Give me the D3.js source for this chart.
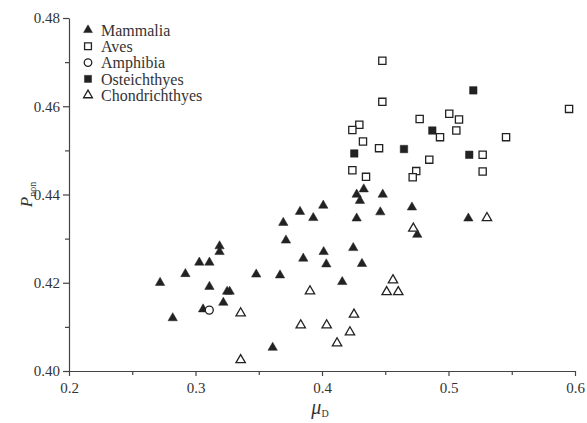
<!DOCTYPE html>
<html lang="en">
  <head>
    <meta charset="UTF-8" />
    <title>P_non vs mu_D</title>
    <script src="https://d3js.org/d3.v7.min.js"></script>
    <style>
      body { margin: 0; background: #fff; }
      text { font-family: "Liberation Serif", "DejaVu Serif", serif; fill: #333; }
    </style>
  </head>
  <body>
    <svg width="587" height="423"></svg>
    <script>
      const margin = { top: 18, right: 12, bottom: 52, left: 69 };
      const svg = d3.select("svg");
      const width = +svg.attr("width");
      const height = +svg.attr("height");
      const innerW = width - margin.left - margin.right;
      const innerH = height - margin.top - margin.bottom;

      // data: [mu_D, P_non]
      const mammalia = [
        [0.272, 0.420], [0.282, 0.412], [0.292, 0.422], [0.303, 0.4246], [0.311, 0.4246],
        [0.319, 0.4283], [0.319, 0.427], [0.311, 0.4191], [0.325, 0.418], [0.327, 0.418],
        [0.322, 0.4155], [0.306, 0.414], [0.348, 0.4219], [0.433, 0.4412], [0.4274, 0.44],
        [0.430, 0.4386], [0.448, 0.44], [0.401, 0.4375], [0.3826, 0.4361], [0.3931, 0.4347],
        [0.3694, 0.4336], [0.4274, 0.4346], [0.4461, 0.436], [0.3715, 0.4296], [0.4013, 0.427],
        [0.4247, 0.4279], [0.3852, 0.4255], [0.4034, 0.4242], [0.4316, 0.4243], [0.3668, 0.4217],
        [0.416, 0.4202], [0.361, 0.4053], [0.4711, 0.4371], [0.5157, 0.4346], [0.4753, 0.4309]
      ];
      const aves = [
        [0.4477, 0.4703], [0.4477, 0.461], [0.5953, 0.4594], [0.5006, 0.4583], [0.5083, 0.457],
        [0.4772, 0.4571], [0.4933, 0.453], [0.5062, 0.4545], [0.5455, 0.453], [0.4451, 0.4505],
        [0.527, 0.449], [0.4848, 0.4479], [0.4745, 0.4453], [0.4717, 0.4439], [0.527, 0.4452],
        [0.4295, 0.4558], [0.424, 0.4546], [0.4324, 0.452], [0.424, 0.4455], [0.4348, 0.444]
      ];
      const amphibia = [[0.3109, 0.4138]];
      const osteichthyes = [
        [0.5196, 0.4636], [0.4872, 0.4545], [0.4648, 0.4503], [0.5164, 0.449], [0.4255, 0.4493]
      ];
      const chondrichthyes = [
        [0.3357, 0.4131], [0.3357, 0.4025], [0.3905, 0.4181], [0.4561, 0.4206], [0.4511, 0.4179],
        [0.4603, 0.4179], [0.4253, 0.4128], [0.3832, 0.4104], [0.4037, 0.4104], [0.4221, 0.4088],
        [0.4119, 0.4063], [0.5304, 0.4347], [0.4722, 0.4323]
      ];
      const xTicks = [0.2, 0.3, 0.4, 0.5, 0.6];
      const yTicks = [0.40, 0.42, 0.44, 0.46, 0.48];

      const groups = [
        { name: "Mammalia", data: mammalia, shape: d3.symbolTriangle, size: 38, filled: true },
        { name: "Aves", data: aves, shape: d3.symbolSquare, size: 52, filled: false },
        { name: "Amphibia", data: amphibia, shape: d3.symbolCircle, size: 50, filled: false },
        { name: "Osteichthyes", data: osteichthyes, shape: d3.symbolSquare, size: 56, filled: true },
        { name: "Chondrichthyes", data: chondrichthyes, shape: d3.symbolTriangle, size: 38, filled: false }
      ];

      const g = svg.append("g").attr("transform", `translate(${margin.left},${margin.top})`);

      const x = d3.scaleLinear().domain([0.2, 0.6]).range([0, innerW]);
      const y = d3.scaleLinear().domain([0.40, 0.48]).range([innerH, 0]);

      // minor ticks
      g.append("g")
        .attr("transform", `translate(0,${innerH})`)
        .call(d3.axisBottom(x).tickValues(d3.range(0.25, 0.6, 0.1)).tickSize(4).tickFormat(""))
        .call((a) => a.select(".domain").remove());
      g.append("g")
        .call(d3.axisLeft(y).tickValues(d3.range(0.41, 0.48, 0.02)).tickSize(4).tickFormat(""))
        .call((a) => a.select(".domain").remove());

      // major axes
      const xAxis = g.append("g")
        .attr("transform", `translate(0,${innerH})`)
        .call(d3.axisBottom(x).tickValues(xTicks).tickSize(5).tickSizeOuter(0).tickPadding(6).tickFormat(d3.format(".1f")));
      const yAxis = g.append("g")
        .call(d3.axisLeft(y).tickValues(yTicks).tickSize(6).tickSizeOuter(0).tickPadding(3).tickFormat(d3.format(".2f")));

      g.selectAll(".tick text").attr("font-size", 15).attr("font-family", "Liberation Serif").attr("fill", "#333");
      g.selectAll(".domain, .tick line").attr("stroke", "#444").attr("stroke-width", 1.2);

      // axis titles
      const yt = svg.append("text")
        .attr("transform", `translate(32,${margin.top + innerH / 2}) rotate(-90)`)
        .attr("text-anchor", "middle");
      yt.append("tspan").attr("font-style", "italic").attr("font-size", 17).text("P");
      yt.append("tspan").attr("font-size", 10).attr("dy", 4).text("non");

      const xt = svg.append("text")
        .attr("x", margin.left + x(0.4) - 2)
        .attr("y", 414)
        .attr("text-anchor", "middle");
      xt.append("tspan").attr("font-style", "italic").attr("font-size", 20).text("μ");
      xt.append("tspan").attr("font-size", 10).attr("dy", 3).text("D");

      // points
      groups.forEach((grp) => {
        g.append("g")
          .selectAll("path")
          .data(grp.data)
          .join("path")
          .attr("transform", (d) => `translate(${x(d[0])},${y(d[1])})`)
          .attr("d", d3.symbol().type(grp.shape).size(grp.size))
          .attr("fill", grp.filled ? "#222" : "#fff")
          .attr("stroke", "#222")
          .attr("stroke-width", grp.filled ? 0.5 : 1.3);
      });

      // legend
      const legend = svg.append("g").attr("transform", "translate(88,30)");
      const rows = legend.selectAll("g").data(groups).join("g")
        .attr("transform", (d, i) => `translate(0,${i * 16.3})`);
      rows.append("path")
        .attr("d", (d) => d3.symbol().type(d.shape).size(d.size * 0.9)())
        .attr("fill", (d) => (d.filled ? "#222" : "#fff"))
        .attr("stroke", "#222")
        .attr("stroke-width", (d) => (d.filled ? 0.5 : 1.3));
      rows.append("text")
        .attr("x", 13)
        .attr("dy", "0.35em")
        .attr("font-size", 16)
        .text((d) => d.name);
    </script>
  </body>
</html>
